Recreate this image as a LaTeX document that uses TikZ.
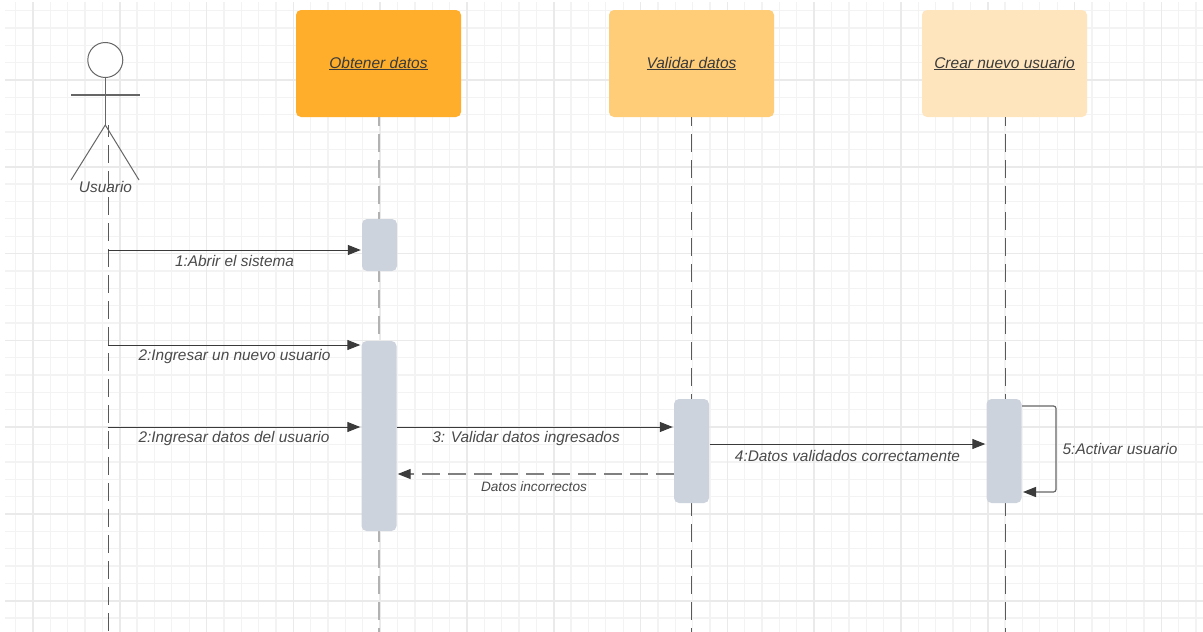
\documentclass[tikz,border=0pt]{standalone}
\usepackage{fontspec}
\setmainfont{Liberation Sans}
\usetikzlibrary{arrows.meta}
\definecolor{gridmaj}{HTML}{EAEAEA}
\definecolor{gridmin}{HTML}{F3F3F3}
\definecolor{txt}{HTML}{4A4A4A}
\definecolor{ink}{HTML}{3A3A3A}
\definecolor{actc}{HTML}{CDD3DC}
\definecolor{boxa}{HTML}{FFAE2B}
\definecolor{boxb}{HTML}{FFCC78}
\definecolor{boxc}{HTML}{FFE5BD}
\tikzset{
  x=1pt,y=-1pt,
  headbox/.style={draw=none,rounded corners=5pt,minimum width=165pt,minimum height=107pt,inner sep=0pt,text=ink,font=\fontsize{15.5}{18}\selectfont\itshape},
  actbox/.style={draw=none,fill=actc,rounded corners=5pt,minimum width=35pt,inner sep=0pt},
  lifeline/.style={draw=black!65,line width=1pt,dash pattern=on 18pt off 8pt,dash phase=9pt},
  lifelinegray/.style={draw=black!30,line width=2pt,dash pattern=on 18pt off 8pt,dash phase=9pt},
  msg/.style={draw=ink,line width=1pt,-{Triangle[length=13pt,width=10pt]}},
  retmsg/.style={draw=black!50,line width=1.3pt,dash pattern=on 18pt off 8pt,-{Triangle[length=13pt,width=10pt,color=ink,fill=ink]}},
  lbl/.style={text=txt,inner sep=0pt,font=\fontsize{15.4}{18}\selectfont\itshape},
  lblsmall/.style={text=txt,inner sep=0pt,font=\fontsize{13.6}{16}\selectfont\itshape},
  figure/.style={draw=black!60,line width=1pt},
}
\begin{document}
\begin{tikzpicture}
\useasboundingbox (0,0) rectangle (1203,632);
\fill[white] (0,0) rectangle (1203,632);
% grid
\foreach \i in {-1,...,68} {
  \pgfmathsetmacro\xx{15.6+17.36*\i}
  \ifdim\xx pt>4pt\ifdim\xx pt<1203pt
  \draw[gridmin,line width=1.3pt] (\xx,2) -- (\xx,632);
  \fi\fi
}
\foreach \i in {0,...,36} {
  \pgfmathsetmacro\yy{10.5+17.36*\i}
  \ifdim\yy pt<632pt
  \draw[gridmin,line width=1.3pt] (5,\yy) -- (1203,\yy);
  \fi
}
\foreach \i in {0,...,13} {
  \pgfmathsetmacro\xx{33+86.8*\i}
  \draw[gridmaj,line width=1.6pt] (\xx,2) -- (\xx,632);
}
\foreach \i in {0,...,6} {
  \pgfmathsetmacro\yy{80+86.8*\i}
  \draw[gridmaj,line width=1.6pt] (5,\yy) -- (1203,\yy);
}
% head boxes
\node[headbox,fill=boxa] (obt) at (378.5,63.5) {\underline{Obtener datos}};
\node[headbox,fill=boxb] (val) at (691.5,63.5) {\underline{Validar datos}};
\node[headbox,fill=boxc] (cre) at (1004.5,63.5) {\underline{Crear nuevo usuario}};
% free ends
\coordinate (uend) at (108.4,632);
\coordinate (ustart) at (108.4,125);
\coordinate (oend) at (379,632);
\coordinate (vend) at (691.4,632);
\coordinate (cend) at (1005.4,632);
% lifelines
\draw[lifeline,dash phase=6pt] (ustart) -- (uend);
\draw[lifelinegray] (obt.south -| oend) -- (oend);
\draw[lifeline] (val.south -| vend) -- (vend);
\draw[lifeline] (cre.south -| cend) -- (cend);
% activations
\node[actbox,minimum height=52pt] (a1) at (379.5,245) {};
\node[actbox,minimum height=190pt] (a2) at (379,436) {};
\node[actbox,minimum height=104pt] (a3) at (691.5,451) {};
\node[actbox,minimum height=104pt] (a4) at (1004,451) {};
% actor
\node[circle,figure,fill=white,minimum size=35pt,inner sep=0pt] (head) at (105.3,60) {};
\coordinate (hip) at (105.3,125);
\coordinate (arml) at (71,95);
\coordinate (armr) at (140,95);
\coordinate (legl) at (71,180);
\coordinate (legr) at (139,180);
\draw[figure] (head.south) -- (hip);
\draw[figure,line width=1.3pt] (arml) -- (armr);
\draw[figure] (legl) -- (hip) -- (legr);
\node[lbl] (ulabel) at (105.5,187) {Usuario};
% messages
\coordinate (m1) at (108.4,250);
\coordinate (m2) at (108.4,345);
\coordinate (m3) at (108.4,427);
\draw[msg] (m1) -- ([xshift=-1pt]a1.west |- m1);
\draw[msg] (m2) -- ([xshift=-1pt]a2.west |- m2);
\draw[msg] (m3) -- ([xshift=-1pt]a2.west |- m3);
\coordinate (m4) at (397,427);
\draw[msg] (m4) -- ([xshift=-1pt]a3.west |- m4);
\coordinate (m5) at (674,474);
\draw[retmsg] (m5) -- ([xshift=1pt]a2.east |- m5);
\coordinate (m6) at (709.5,444);
\draw[msg] (m6) -- ([xshift=-1pt]a4.west |- m6);
\coordinate (s1) at (1022,406);
\coordinate (s2) at (1056,406);
\coordinate (s3) at (1056,492);
\coordinate (s4) at (1023,492);
\draw[msg,black!60,line width=1.2pt,rounded corners=2.5pt,-{Triangle[length=13pt,width=10pt,color=ink,fill=ink]}] (s1) -- (s2) -- (s3) -- (s4);
% labels
\node[lbl] (l1) at (234.5,260.5) {1:Abrir el sistema};
\node[lbl] (l2) at (234.5,357) {2:Ingresar un nuevo usuario};
\node[lbl] (l3) at (234,439) {2:Ingresar datos del usuario};
\node[lbl] (l4) at (526,439) {3: Validar datos ingresados};
\node[lblsmall] (l5) at (534,486.5) {Datos incorrectos};
\node[lbl] (l6) at (847.5,456) {4:Datos validados correctamente};
\node[lbl] (l7) at (1120,448.5) {5:Activar usuario};
\end{tikzpicture}
\end{document}
